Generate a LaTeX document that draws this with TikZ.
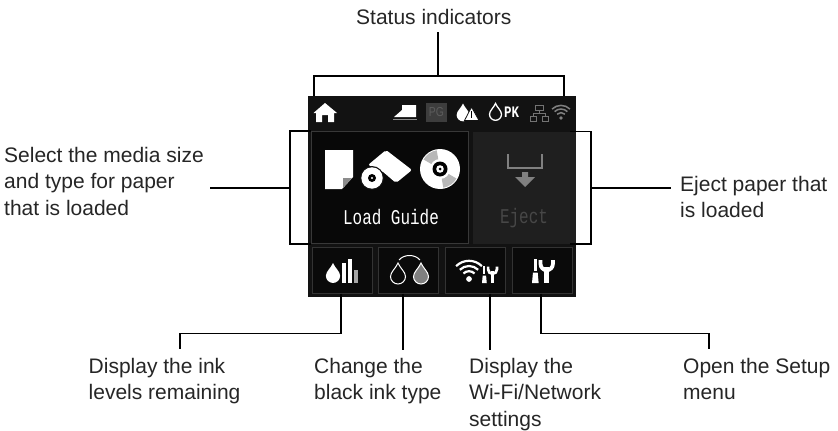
\documentclass[tikz,border=0pt]{standalone}
\usepackage{fontspec}
\setmainfont{Liberation Sans}
\setmonofont{Liberation Mono}
\usetikzlibrary{positioning}
\definecolor{panel}{gray}{0.07}
\tikzstyle{callout}=[text=black!85, font=\fontsize{21}{26.5}\selectfont, align=left, inner sep=0pt, anchor=north west]
\tikzstyle{lead}=[draw=black, line width=1.6pt]
\tikzstyle{softkey}=[rectangle, draw=black!80, line width=1pt, fill=black!96, minimum width=60pt, minimum height=46pt, inner sep=0pt]
\tikzstyle{panelkey}=[rectangle, minimum height=112pt, inner sep=0pt]
\tikzstyle{keytext}=[font=\ttfamily\fontsize{21}{21}\selectfont, inner sep=0pt]
\newcommand{\narrowtext}[2]{\scalebox{#1}[1]{#2}}
\newcommand{\inkdrop}[4]{\path[#4] (#1,#2-#3) .. controls (#1+0.2*#3,#2-0.5*#3) and (#1+0.75*#3,#2-0.1*#3) .. (#1+0.75*#3,#2+0.35*#3) arc (0:180:0.75*#3) .. controls (#1-0.75*#3,#2-0.1*#3) and (#1-0.2*#3,#2-0.5*#3) .. (#1,#2-#3) -- cycle;}
\newcommand{\wifiarcs}[4]{\fill[#4] (#1,#2) circle (#3*0.22);
  \foreach \r in {0.6,1.0,1.4} {\draw[#4, line width=#3*0.17pt] (#1,#2) ++(-45:#3*\r) arc (-45:-135:#3*\r);}}
\newcommand{\toolpair}[2]{\fill[white] (#1+2*#2,283-25*#2) rectangle (#1+5*#2,283-13*#2);
  \fill[white] (#1+1*#2,283-11*#2) -- (#1+6*#2,283-11*#2) -- (#1+7*#2,283) -- (#1,283) -- cycle;
  \fill[white] (#1+13*#2,283-17*#2) rectangle (#1+18*#2,283);
  \draw[white, line width=4*#2 pt] (#1+9*#2,283-24*#2) -- (#1+9*#2,283-20*#2) arc (180:0:6.5*#2) -- (#1+22*#2,283-24*#2);}

\begin{document}
\begin{tikzpicture}[x=1pt,y=-1pt]
  \useasboundingbox[fill=white] (0,0) rectangle (838,431);
  % screen and keys
  \node (Screen) [rectangle, fill=panel, minimum width=268pt, minimum height=201pt, inner sep=0pt] at (442,196.5) {};
  \node (LoadKey) [panelkey, fill=black!97, draw=black!78, line width=1pt, minimum width=157pt] at (389.5,187.5) {};
  \node (EjectKey) [panelkey, fill=black!88, minimum width=103pt] at (524.5,187.5) {};
  \node (InkKey) [softkey] at (342.5,270) {};
  \node (BlackKey) [softkey] at (408.5,270) {};
  \node (NetKey) [softkey] at (475.5,270) {};
  \node (SetupKey) [softkey] at (542.5,270) {};
  \node (LoadText) [keytext, text=white] at (391,217) {\narrowtext{0.76}{Load Guide}};
  \node (EjectText) [keytext, text=black!72] at (524,218) {\narrowtext{0.76}{Eject}};
  % status bar
  \fill[white] (325,103) -- (337,113) -- (334,113) -- (334,122) -- (328,122) -- (328,115) -- (322,115) -- (322,122) -- (316,122) -- (316,113) -- (313.5,113) -- cycle;
  \fill[white] (394,117) -- (402,110) -- (402,105) -- (416,105) -- (416,117) -- cycle;
  \fill[black!45] (393,119) rectangle (417,120);
  \node (PaperGray) [rectangle, fill=black!76, text=black!64, minimum width=21pt, minimum height=19pt, inner sep=0pt, font=\fontsize{13}{13}\selectfont] at (436.5,112.5) {\narrowtext{0.8}{PG}};
  \inkdrop{463}{112}{8.5}{fill=white}
  \path[fill=white, draw=panel, line width=0.8pt] (471.5,107) -- (479,120.5) -- (464.5,120.5) -- cycle;
  \fill[black] (471,111) rectangle (472.2,118);
  \inkdrop{495.5}{111.5}{8}{draw=white, line width=1.3pt}
  \node (InkName) [text=white, inner sep=0pt, font=\ttfamily\bfseries\fontsize{16}{16}\selectfont] at (511.5,112) {\narrowtext{0.78}{PK}};
  % network symbol
  \draw[black!55, line width=1pt] (535,105) rectangle (543,110) (539,110) -- (539,113) (533,116) -- (533,113) -- (545,113) -- (545,116) (530.5,116) rectangle (536.5,121) (542,116) rectangle (548,121);
  \wifiarcs{561}{118}{9}{black!50}
  % load key icons
  \fill[white] (325,150) -- (353,150) -- (353,177) -- (342,189) -- (325,189) -- cycle;
  \fill[black!45] (352,178) -- (343,178) -- (343,188) -- cycle;
  \fill[white, rounded corners=2pt] (386,150) -- (412,170) -- (396,183) -- (382,171) -- (368,165) -- cycle;
  \fill[panel] (372,178) circle (12);
  \fill[white] (372,178) circle (10.7);
  \fill[black] (372,178) circle (4);
  \fill[white] (372,178) circle (1.2);
  \fill[white] (440,169) circle (20);
  \fill[black!28] (440,169) -- ++(-150:19) arc (-150:-100:19) -- cycle;
  \fill[black!28] (440,169) -- ++(30:19) arc (30:80:19) -- cycle;
  \fill[white] (440,169) circle (10);
  \fill[black] (440,169) circle (7.5);
  \fill[white] (440,169) circle (3.8);
  \fill[black] (440,169) circle (1.5);
  % eject icon
  \draw[black!50, line width=1.5pt] (508,154) -- (508,168) -- (542,168) -- (542,154);
  \fill[black!50] (522,172) -- (528,172) -- (528,177) -- (535,177) -- (525,187) -- (515,177) -- (522,177) -- cycle;
  % soft key icons
  \inkdrop{333}{272.5}{9.5}{fill=white}
  \fill[white] (342,263) rectangle (346,283);
  \fill[white] (348,259) rectangle (352,283);
  \fill[black!35] (354,270) rectangle (358,283);
  \inkdrop{398}{273}{10}{draw=white, line width=1pt}
  \inkdrop{421}{273}{10}{draw=white, fill=black!50, line width=1pt}
  \draw[white, line width=1pt] (399,260) .. controls (404,254) and (415,254) .. (420,260);
  \wifiarcs{469}{279}{13}{white}
  \toolpair{482}{0.68}
  \toolpair{532}{0.95}
  % callout texts
  \node (StatusLabel) [callout] at (356,9) {Status indicators};
  \node (LoadLabel) [callout] at (4,147) {Select the media size\\and type for paper\\that is loaded};
  \node (EjectLabel) [callout] at (680,176) {Eject paper that\\is loaded};
  \node (InkLabel) [callout] at (88.5,358) {Display the ink\\levels remaining};
  \node (BlackLabel) [callout] at (314,358) {Change the\\black ink type};
  \node (NetLabel) [callout] at (469,358) {Display the\\Wi-Fi/Network\\settings};
  \node (SetupLabel) [callout] at (683,358) {Open the Setup\\menu};
  % leads
  \coordinate (StatusTop) at (438,32);
  \coordinate (StatusJoin) at (438,76);
  \coordinate (LoadJoin) at (290,188);
  \coordinate (EjectJoin) at (591,188);
  \draw[lead] (StatusTop) -- (StatusJoin);
  \draw[lead] ([xshift=6pt]Screen.north west) |- (StatusJoin) -| ([xshift=-12pt]Screen.north east);
  \draw[lead] (LoadKey.north west) -| (LoadJoin) |- (LoadKey.south west);
  \draw[lead] (LoadJoin) -- (210,188);
  \draw[lead] ([xshift=-6pt]EjectKey.north east) -| (EjectJoin) |- ([xshift=-6pt]EjectKey.south east);
  \draw[lead] (EjectJoin) -- (671,188);
  \draw[lead] ([xshift=-1.5pt]InkKey.south) -- ++(0,40) -| (180,349);
  \draw[lead] ([xshift=-5.5pt]BlackKey.south) -- ++(0,56);
  \draw[lead] ([xshift=14.5pt]NetKey.south) -- ++(0,56);
  \draw[lead] ([xshift=-1.5pt]SetupKey.south) -- ++(0,40) -| (709,349);
\end{tikzpicture}
\end{document}
